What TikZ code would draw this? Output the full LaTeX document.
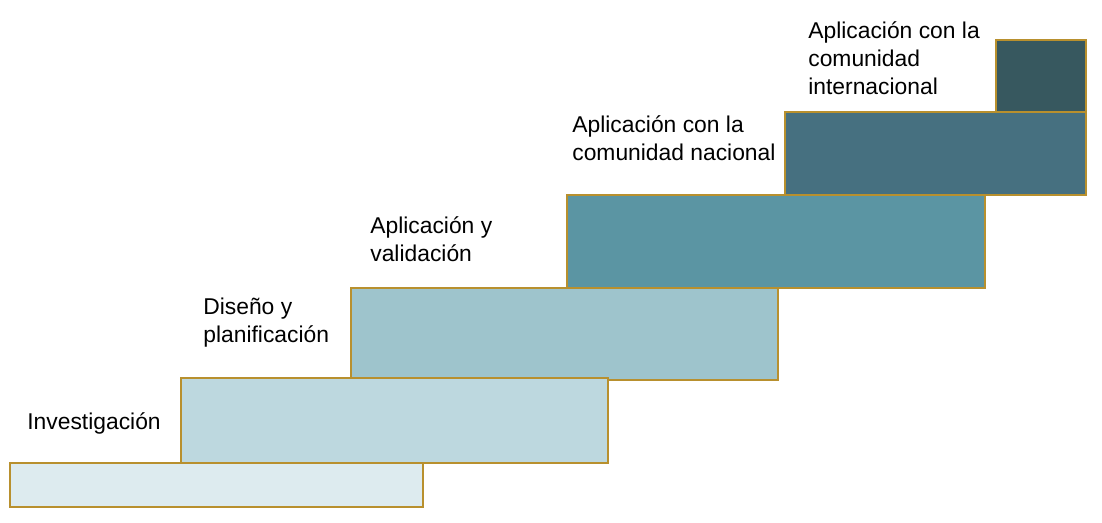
\documentclass[tikz,border=0pt]{standalone}
\usepackage{fontspec}
\setmainfont{Liberation Sans}
\definecolor{gold}{HTML}{B8902E}
\definecolor{stairA}{HTML}{DDEBEF}
\definecolor{stairB}{HTML}{BDD8DF}
\definecolor{stairC}{HTML}{9EC4CC}
\definecolor{stairD}{HTML}{5B95A3}
\definecolor{stairE}{HTML}{467080}
\definecolor{stairF}{HTML}{37585F}
\tikzset{
  stair/.style={draw=gold, line width=0.9pt},
  stairlabel/.style={anchor=base west, align=left, inner sep=0pt, font=\fontsize{13pt}{16pt}\selectfont}
}
\begin{document}
\begin{tikzpicture}[x=0.02cm, y=-0.02cm]
				\useasboundingbox (0, 0) rectangle (1102, 523);
				\draw[stair, fill=stairF] (996, 40) rectangle (1086, 112);
				\draw[stair, fill=stairE] (785, 112) rectangle (1086, 195);
				\draw[stair, fill=stairD] (567, 195) rectangle (985, 288);
				\draw[stair, fill=stairC] (351, 288) rectangle (778, 380);
				\draw[stair, fill=stairB] (181, 378) rectangle (608, 463);
				\draw[stair, fill=stairA] (10, 463) rectangle (423, 507);

				% base anchor sits on the last line
				\node[stairlabel] (investigacion) at (27, 429) {Investigación};
				\node[stairlabel] (diseno) at (203, 343) {Diseño y\\planificación};
				\node[stairlabel] (validacion) at (370, 262) {Aplicación y\\validación};
				\node[stairlabel] (nacional) at (572, 161) {Aplicación con la\\comunidad nacional};
				\node[stairlabel] (internacional) at (808, 95) {Aplicación con la\\comunidad\\internacional};
			\end{tikzpicture}
\end{document}
